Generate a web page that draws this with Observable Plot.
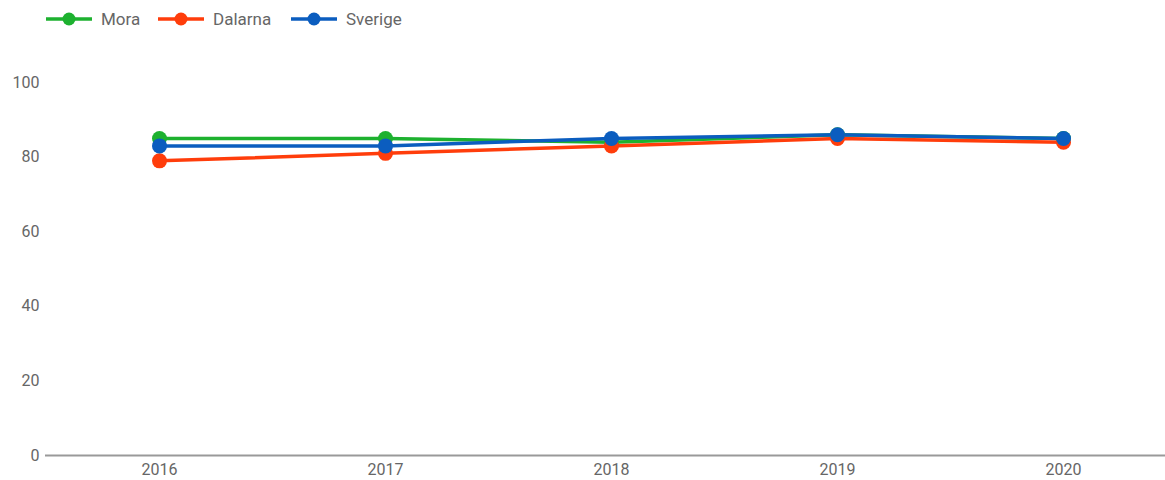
<!DOCTYPE html>
<html>
<head>
<meta charset="utf-8">
<script src="https://cdn.jsdelivr.net/npm/d3@7"></script>
<script src="https://cdn.jsdelivr.net/npm/@observablehq/plot@0.6"></script>
<style>
  body { margin: 0; background: #fff; font-family: Roboto, "Noto Sans", sans-serif; }
  #legend { height: 40px; position: relative; font-size: 17px; color: #666; }
  .item { position: absolute; top: 8px; display: flex; align-items: center; }
  .item svg { margin-right: 9px; }
</style>
</head>
<body>
<div id="legend"></div>
<div id="chart"></div>
<script>
// Share (%) per year for Mora, Dalarna and Sverige
const years = ["2016", "2017", "2018", "2019", "2020"];
const mora = [85, 85, 84, 86, 85];
const dalarna = [79, 81, 83, 85, 84];
const sverige = [83, 83, 85, 86, 85];
const seriesNames = ["Mora", "Dalarna", "Sverige"];
const seriesColors = ["#1db12f", "#ff3d0b", "#0b5dbf"];
const yTicks = [0, 20, 40, 60, 80, 100];

const seriesValues = [mora, dalarna, sverige];
const rows = seriesNames.flatMap((name, i) =>
  years.map((year, j) => ({ name, year, value: seriesValues[i][j] }))
);

// Legend row
const legend = document.getElementById("legend");
const legendLeft = [46, 158, 291];
seriesNames.forEach((name, i) => {
  const item = document.createElement("div");
  item.className = "item";
  item.style.left = legendLeft[i] + "px";
  item.innerHTML =
    `<svg width="46" height="22"><line x1="0" x2="46" y1="11" y2="11" stroke="${seriesColors[i]}" stroke-width="3.5"/>` +
    `<circle cx="23" cy="11" r="6.5" fill="${seriesColors[i]}"/></svg><span>${name}</span>`;
  legend.appendChild(item);
});

const color = { domain: seriesNames, range: seriesColors };

const chart = Plot.plot({
  width: 1165,
  height: 440,
  marginLeft: 45,
  marginRight: 0,
  marginTop: 42,
  marginBottom: 25,
  style: { fontFamily: "Roboto, sans-serif", fontSize: "16px", color: "#666" },
  x: { type: "point", domain: years, range: [158, 1063], padding: 0, label: null },
  y: { domain: [0, 100], ticks: yTicks, label: null },
  color,
  marks: [
    Plot.axisY({ ticks: yTicks, tickSize: 0, tickPadding: 6, fill: "#666", fontSize: 16 }),
    Plot.axisX({ tickSize: 0, tickPadding: 8, fill: "#666", fontSize: 16 }),
    Plot.ruleY([0], { stroke: "#999", strokeWidth: 2 }),
    Plot.line(rows, { x: "year", y: "value", z: "name", stroke: "name", strokeWidth: 3.5 }),
    Plot.dot(rows, { x: "year", y: "value", fill: "name", r: 7.5 })
  ]
});
document.getElementById("chart").appendChild(chart);
</script>
</body>
</html>
